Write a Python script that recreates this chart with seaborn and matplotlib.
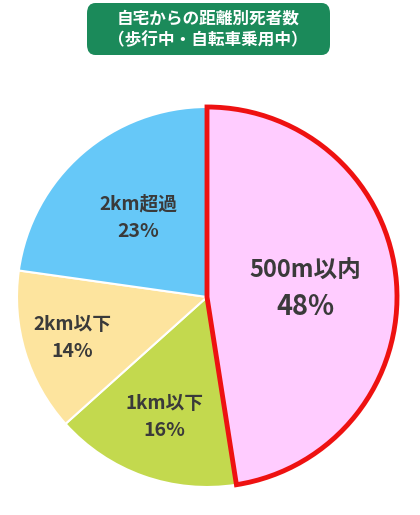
import numpy as np
import matplotlib
matplotlib.use("Agg")
import matplotlib.pyplot as plt
from matplotlib.patches import FancyBboxPatch
import seaborn as sns

sns.set_theme(style="white")
plt.rcParams["font.family"] = ["Noto Sans CJK JP", "DejaVu Sans"]

title_lines = ["自宅からの距離別死者数", "（歩行中・自転車乗用中）"]
categories = ["500m以内", "1km以下", "2km以下", "2km超過"]
shares = [48, 16, 14, 23]
colors = ["#ffccff", "#c3d94e", "#fde49e", "#66c8f8"]
label_radius = [0.52, 0.67, 0.74, 0.55]

fig = plt.figure(figsize=(4.2, 5.15), dpi=100)

# green title box
box = FancyBboxPatch((87 / 420, 1 - 55 / 515), 243 / 420, 52 / 515,
                     boxstyle="round,pad=0,rounding_size=0.02",
                     transform=fig.transFigure, facecolor="#1b8a5a",
                     edgecolor="none")
fig.patches.append(box)
fig.text(208 / 420, 1 - 19 / 515, title_lines[0], ha="center", va="center",
         color="white", fontsize=12, fontweight="bold")
fig.text(208 / 420, 1 - 40 / 515, title_lines[1], ha="center", va="center",
         color="white", fontsize=12, fontweight="bold")

ax = fig.add_axes([(207 - 190) / 420, (515 - 297 - 190) / 515, 380 / 420, 380 / 515])
wedges, _ = ax.pie(shares, colors=colors, startangle=90, counterclock=False,
                   wedgeprops=dict(edgecolor="white", linewidth=1.5))
wedges[0].set_edgecolor("#ee1111")
wedges[0].set_linewidth(3.5)
wedges[0].set_zorder(5)
ax.set_xlim(-1.0, 1.0)
ax.set_ylim(-1.0, 1.0)
ax.axis("off")

for i, w in enumerate(wedges):
    ang = np.deg2rad((w.theta1 + w.theta2) / 2)
    x = label_radius[i] * np.cos(ang)
    y = label_radius[i] * np.sin(ang)
    pct = f"{shares[i]}%"
    if i == 0:
        ax.text(x, y + 0.095, categories[i], ha="center", va="center",
                fontsize=17, color="#3a3a3a", fontweight="bold", zorder=10)
        ax.text(x, y - 0.095, pct, ha="center", va="center",
                fontsize=19.5, color="#3a3a3a", fontweight="bold", zorder=10)
    else:
        ax.text(x, y + 0.072, categories[i], ha="center", va="center",
                fontsize=13.5, color="#3a3a3a", fontweight="bold", zorder=10)
        ax.text(x, y - 0.072, pct, ha="center", va="center",
                fontsize=14, color="#3a3a3a", fontweight="bold", zorder=10)

fig.savefig("out.png", dpi=100)
